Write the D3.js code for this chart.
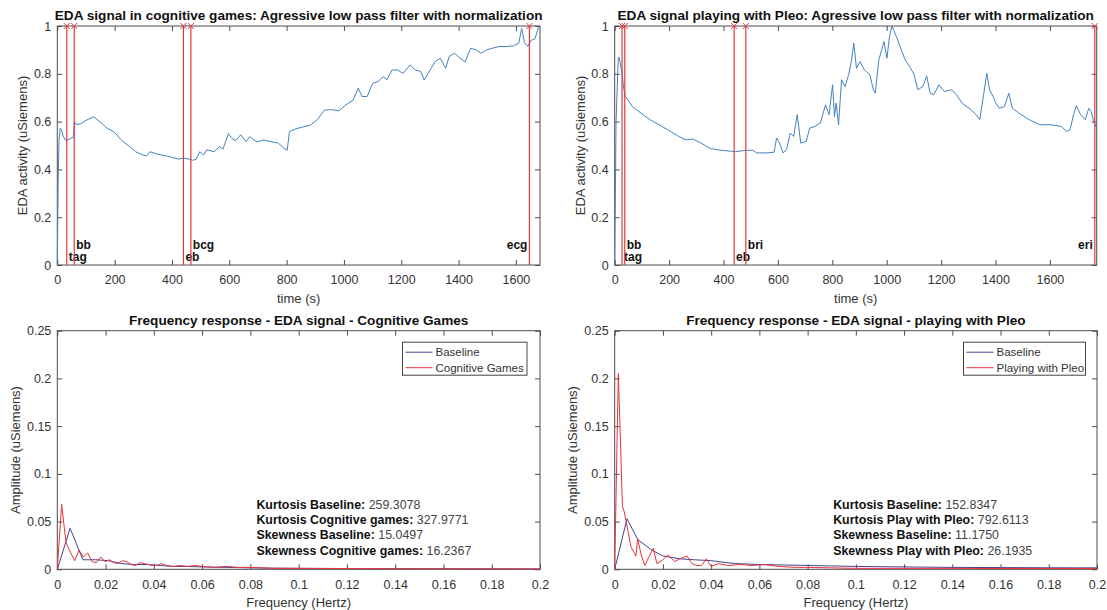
<!DOCTYPE html>
<html>

<head>
  <title>EDA signal</title>

  <style>
    body,
    html {
      margin: 0;
      padding: 0;
      background: #fff;
    }

    svg text {
      font-family: "Liberation Sans", Arial, sans-serif;
    }
  </style>
</head>

<body>

  <svg id="svg" width="1107" height="610"></svg>

  <script src="https://d3js.org/d3.v7.min.js"></script>
  <script>
    // top left: EDA in cognitive games
    const cogTime = [0, 3, 6, 10, 15, 20, 30, 45, 56, 60, 66, 80, 100, 127, 150, 174, 199, 224, 250, 273, 295, 311, 323, 348, 385, 423, 441, 460, 472, 485, 497, 510, 522, 547, 566, 578, 597, 609, 622, 640, 659, 671, 696, 721, 746, 771, 789, 802, 810, 833, 858, 883, 907, 932, 957, 982, 1007, 1032, 1050, 1063, 1081, 1100, 1119, 1137, 1150, 1168, 1187, 1206, 1231, 1249, 1268, 1280, 1293, 1318, 1336, 1355, 1367, 1386, 1405, 1423, 1442, 1461, 1479, 1498, 1517, 1541, 1566, 1591, 1610, 1620, 1630, 1641, 1653, 1666, 1680]
    const cogEDA = [0, 0.35, 0.52, 0.572, 0.565, 0.54, 0.52, 0.528, 0.535, 0.6, 0.588, 0.59, 0.605, 0.62, 0.598, 0.572, 0.556, 0.522, 0.497, 0.474, 0.462, 0.456, 0.474, 0.464, 0.455, 0.443, 0.447, 0.443, 0.438, 0.443, 0.474, 0.46, 0.482, 0.474, 0.495, 0.485, 0.55, 0.53, 0.52, 0.545, 0.516, 0.537, 0.515, 0.523, 0.516, 0.51, 0.49, 0.48, 0.558, 0.57, 0.578, 0.585, 0.608, 0.648, 0.65, 0.645, 0.67, 0.69, 0.74, 0.705, 0.705, 0.76, 0.768, 0.788, 0.775, 0.816, 0.816, 0.802, 0.837, 0.816, 0.81, 0.774, 0.8, 0.851, 0.865, 0.823, 0.872, 0.886, 0.865, 0.85, 0.907, 0.9, 0.886, 0.9, 0.907, 0.914, 0.914, 0.917, 0.928, 0.99, 0.93, 0.915, 0.94, 0.945, 1.0]
    const cogMarkTimes = [33, 59, 440, 466, 1647]
    const cogMarkNames = ["tag", "bb", "eb", "bcg", "ecg"]

    // top right: EDA playing with Pleo
    const pleoTime = [0, 5, 13, 16, 26, 33, 39, 65, 104, 130, 156, 195, 235, 261, 287, 313, 352, 391, 430, 443, 482, 508, 521, 560, 586, 595, 606, 619, 632, 645, 658, 671, 684, 704, 717, 736, 756, 775, 788, 801, 808, 814, 823, 834, 847, 860, 870, 879, 889, 902, 918, 938, 951, 958, 971, 990, 1001, 1010, 1019, 1036, 1049, 1068, 1088, 1101, 1114, 1133, 1147, 1160, 1173, 1192, 1212, 1238, 1257, 1277, 1303, 1329, 1342, 1357, 1368, 1378, 1391, 1401, 1414, 1433, 1449, 1462, 1485, 1524, 1563, 1603, 1642, 1661, 1674, 1687, 1697, 1713, 1730, 1743, 1752, 1761, 1772]
    const pleoEDA = [0, 0.6, 0.865, 0.87, 0.81, 0.74, 0.705, 0.663, 0.629, 0.608, 0.591, 0.566, 0.538, 0.524, 0.527, 0.513, 0.487, 0.48, 0.476, 0.474, 0.48, 0.48, 0.469, 0.469, 0.472, 0.531, 0.51, 0.469, 0.483, 0.552, 0.538, 0.629, 0.51, 0.517, 0.573, 0.58, 0.594, 0.67, 0.629, 0.754, 0.62, 0.677, 0.587, 0.775, 0.747, 0.796, 0.851, 0.928, 0.823, 0.851, 0.816, 0.796, 0.733, 0.719, 0.858, 0.935, 0.865, 0.955, 1.0, 0.955, 0.914, 0.858, 0.823, 0.796, 0.733, 0.747, 0.791, 0.719, 0.712, 0.754, 0.726, 0.733, 0.712, 0.677, 0.656, 0.629, 0.608, 0.719, 0.802, 0.733, 0.705, 0.677, 0.656, 0.663, 0.719, 0.656, 0.636, 0.608, 0.587, 0.587, 0.58, 0.559, 0.566, 0.629, 0.666, 0.629, 0.608, 0.656, 0.642, 0.6, 0.573]
    const pleoMarkTimes = [27, 37, 439, 482, 1765]
    const pleoMarkNames = ["tag", "bb", "eb", "bri", "eri"]

    // bottom left: frequency response, cognitive games
    const cogBaseFreq = [0, 0.0053, 0.0106, 0.016, 0.0213, 0.0266, 0.032, 0.0373, 0.0426, 0.048, 0.0533, 0.06, 0.07, 0.08, 0.09, 0.1, 0.12, 0.14, 0.16, 0.18, 0.2]
    const cogBaseAmp = [0, 0.043, 0.01, 0.01, 0.009, 0.006, 0.005, 0.005, 0.004, 0.003, 0.003, 0.0025, 0.002, 0.0015, 0.0012, 0.001, 0.0008, 0.0006, 0.0005, 0.0004, 0.0003]
    const cogGameFreq = [0, 0.0018, 0.0036, 0.0054, 0.0072, 0.009, 0.0108, 0.0126, 0.0144, 0.0162, 0.018, 0.0198, 0.0216, 0.0234, 0.0252, 0.027, 0.0288, 0.0306, 0.0324, 0.0342, 0.036, 0.0378, 0.0396, 0.0414, 0.0432, 0.045, 0.048, 0.051, 0.054, 0.057, 0.06, 0.065, 0.07, 0.075, 0.08, 0.09, 0.1, 0.12, 0.14, 0.16, 0.18, 0.2]
    const cogGameAmp = [0, 0.068, 0.028, 0.018, 0.009, 0.02, 0.013, 0.017, 0.008, 0.007, 0.013, 0.008, 0.01, 0.007, 0.006, 0.009, 0.008, 0.005, 0.004, 0.007, 0.006, 0.005, 0.004, 0.004, 0.006, 0.004, 0.003, 0.004, 0.003, 0.004, 0.003, 0.002, 0.003, 0.002, 0.002, 0.001, 0.001, 0.0008, 0.0006, 0.0005, 0.0004, 0.0003]
    const cogStatNames = ["Kurtosis Baseline:", "Kurtosis Cognitive games:", "Skewness Baseline:", "Skewness Cognitive games:"]
    const cogStatValues = ["259.3078", "327.9771", "15.0497", "16.2367"]
    const cogLegend = ["Baseline", "Cognitive Games"]

    // bottom right: frequency response, playing with Pleo
    const pleoBaseFreq = [0, 0.0051, 0.0096, 0.0155, 0.02, 0.027, 0.033, 0.04, 0.05, 0.06, 0.07, 0.08, 0.1, 0.12, 0.14, 0.16, 0.18, 0.2]
    const pleoBaseAmp = [0, 0.053, 0.031, 0.02, 0.014, 0.011, 0.01, 0.009, 0.006, 0.005, 0.0045, 0.004, 0.003, 0.0025, 0.002, 0.0018, 0.0016, 0.0015]
    const pleoGameFreq = [0, 0.0015, 0.0022, 0.0032, 0.004, 0.0055, 0.0068, 0.0088, 0.0095, 0.011, 0.0125, 0.014, 0.016, 0.0175, 0.02, 0.022, 0.025, 0.027, 0.03, 0.032, 0.034, 0.036, 0.038, 0.04, 0.043, 0.047, 0.052, 0.057, 0.062, 0.068, 0.075, 0.08, 0.09, 0.1, 0.12, 0.14, 0.16, 0.18, 0.2]
    const pleoGameAmp = [0, 0.205, 0.15, 0.066, 0.06, 0.04, 0.023, 0.014, 0.032, 0.015, 0.004, 0.012, 0.022, 0.006, 0.01, 0.015, 0.008, 0.011, 0.014, 0.006, 0.004, 0.004, 0.011, 0.003, 0.006, 0.004, 0.005, 0.004, 0.005, 0.003, 0.002, 0.002, 0.0015, 0.001, 0.001, 0.001, 0.0008, 0.0008, 0.0008]
    const pleoStatNames = ["Kurtosis Baseline:", "Kurtosis Play with Pleo:", "Skewness Baseline:", "Skewness Play with Pleo:"]
    const pleoStatValues = ["152.8347", "792.6113", "11.1750", "26.1935"]
    const pleoLegend = ["Baseline", "Playing with Pleo"]

    const timeTicks = [0, 200, 400, 600, 800, 1000, 1200, 1400, 1600]
    const edaTicks = [0, 0.2, 0.4, 0.6, 0.8, 1]
    const freqTicks = [0, 0.02, 0.04, 0.06, 0.08, 0.1, 0.12, 0.14, 0.16, 0.18, 0.2]
    const ampTicks = [0, 0.05, 0.1, 0.15, 0.2, 0.25]

    const svg = d3.select("#svg")
    const axisColor = "#4d4d4d"
    const textColor = "#333"
    const fmt = d => String(+d.toFixed(2))

    function drawAxes(box, xDomain, yDomain, xTicks, yTicks, o) {
      const x = d3.scaleLinear().domain(xDomain).range([box.x0, box.x1])
      const y = d3.scaleLinear().domain(yDomain).range([box.y1, box.y0])
      const g = svg.append("g")

      g.append("g")
        .attr("transform", `translate(0,${box.y1})`)
        .call(d3.axisBottom(x).tickValues(xTicks).tickFormat(fmt).tickSize(-5).tickPadding(10.5))
      g.append("g")
        .attr("transform", `translate(0,${box.y0})`)
        .call(d3.axisTop(x).tickValues(xTicks).tickFormat("").tickSize(-5))
      g.append("g")
        .attr("transform", `translate(${box.x0},0)`)
        .call(d3.axisLeft(y).tickValues(yTicks).tickFormat(fmt).tickSize(-5).tickPadding(6))
      g.append("g")
        .attr("transform", `translate(${box.x1},0)`)
        .call(d3.axisRight(y).tickValues(yTicks).tickFormat("").tickSize(-5))

      g.selectAll(".domain").remove()
      g.selectAll(".tick line").attr("stroke", axisColor)
      g.selectAll(".tick text")
        .attr("fill", textColor)
        .style("font-size", "12.5px")

      g.append("rect")
        .attr("x", box.x0).attr("y", box.y0)
        .attr("width", box.x1 - box.x0).attr("height", box.y1 - box.y0)
        .attr("fill", "none").attr("stroke", axisColor).attr("stroke-width", 1)

      const cx = (box.x0 + box.x1) / 2
      svg.append("text")
        .attr("x", cx).attr("y", box.y0 - o.titleGap)
        .attr("text-anchor", "middle")
        .style("font-size", "13.6px").style("font-weight", "bold")
        .attr("fill", "#111")
        .text(o.title)

      svg.append("text")
        .attr("x", cx).attr("y", box.y1 + 38)
        .attr("text-anchor", "middle")
        .style("font-size", "13px")
        .attr("fill", textColor)
        .text(o.xLabel)

      svg.append("text")
        .attr("transform", `translate(${o.yLabelX},${(box.y0 + box.y1) / 2}) rotate(-90)`)
        .attr("text-anchor", "middle")
        .style("font-size", "13px")
        .attr("fill", textColor)
        .text(o.yLabel)

      return { x, y }
    }

    function drawSignal(box, times, values, markTimes, markNames, o) {
      const s = drawAxes(box, [0, o.xMax], [0, 1], timeTicks, edaTicks, o)

      const lineGen = d3.line()
        .x((d, i) => s.x(times[i]))
        .y(d => s.y(d))

      svg.append("path")
        .attr("d", lineGen(values))
        .attr("fill", "none")
        .attr("stroke", "#4582c2")
        .attr("stroke-width", 1)

      // events: vertical red lines with x markers at the top
      markTimes.forEach((t, i) => {
        const px = s.x(t)
        svg.append("line")
          .attr("x1", px).attr("x2", px)
          .attr("y1", s.y(0)).attr("y2", s.y(1))
          .attr("stroke", "#e0393e").attr("stroke-width", 1.2)
        const m = 3
        svg.append("path")
          .attr("d", `M${px - m},${s.y(1) - m}L${px + m},${s.y(1) + m}M${px - m},${s.y(1) + m}L${px + m},${s.y(1) - m}`)
          .attr("stroke", "#e0393e").attr("stroke-width", 1)

        const name = markNames[i]
        const low = name === "tag" || name === "eb"
        const atEnd = i === markTimes.length - 1
        svg.append("text")
          .attr("x", atEnd ? px - 2 : px + 2)
          .attr("y", s.y(low ? 0.017 : 0.067))
          .attr("text-anchor", atEnd ? "end" : "start")
          .style("font-size", "12px").style("font-weight", "bold")
          .attr("fill", "#111")
          .text(name)
      })
    }

    function drawSpectrum(box, baseF, baseA, gameF, gameA, legend, statNames, statValues, o) {
      const s = drawAxes(box, [0, 0.2], [0, 0.25], freqTicks, ampTicks, o)

      const baseLine = d3.line().x((d, i) => s.x(baseF[i])).y(d => s.y(d))
      const gameLine = d3.line().x((d, i) => s.x(gameF[i])).y(d => s.y(d))

      svg.append("path")
        .attr("d", baseLine(baseA))
        .attr("fill", "none").attr("stroke", "#44448f").attr("stroke-width", 1)
      svg.append("path")
        .attr("d", gameLine(gameA))
        .attr("fill", "none").attr("stroke", "#e8323a").attr("stroke-width", 1)

      // legend
      const lg = svg.append("g")
      lg.append("rect")
        .attr("x", o.legendX).attr("y", box.y0 + 11.5)
        .attr("width", o.legendW).attr("height", 33)
        .attr("fill", "#fff").attr("stroke", "#444").attr("stroke-width", 1)
      const colors = ["#44448f", "#e8323a"]
      legend.forEach((name, i) => {
        const ly = box.y0 + 21.5 + i * 15.5
        lg.append("line")
          .attr("x1", o.legendX + 3).attr("x2", o.legendX + 30)
          .attr("y1", ly).attr("y2", ly)
          .attr("stroke", colors[i]).attr("stroke-width", 1)
        lg.append("text")
          .attr("x", o.legendX + 33).attr("y", ly + 4)
          .style("font-size", "11.5px")
          .attr("fill", textColor)
          .text(name)
      })

      // kurtosis / skewness block
      statNames.forEach((name, i) => {
        const t = svg.append("text")
          .attr("x", s.x(o.statX)).attr("y", s.y(0.1) + 35 + i * 15.3)
          .style("font-size", "12.4px")
          .attr("fill", "#111")
        t.append("tspan").style("font-weight", "bold").text(name + " ")
        t.append("tspan").attr("fill", "#444").text(statValues[i])
      })
    }

    drawSignal({ x0: 57.3, x1: 540, y0: 26, y1: 265 }, cogTime, cogEDA, cogMarkTimes, cogMarkNames, {
      xMax: 1684, title: "EDA signal in cognitive games: Agressive low pass filter with normalization",
      xLabel: "time (s)", yLabel: "EDA activity (uSiemens)", yLabelX: 27, titleGap: 6
    })
    drawSignal({ x0: 614.7, x1: 1096.7, y0: 26, y1: 265 }, pleoTime, pleoEDA, pleoMarkTimes, pleoMarkNames, {
      xMax: 1772, title: "EDA signal playing with Pleo: Agressive low pass filter with normalization",
      xLabel: "time (s)", yLabel: "EDA activity (uSiemens)", yLabelX: 585, titleGap: 6
    })
    drawSpectrum({ x0: 57.3, x1: 540, y0: 330.7, y1: 569.3 }, cogBaseFreq, cogBaseAmp, cogGameFreq, cogGameAmp, cogLegend, cogStatNames, cogStatValues, {
      title: "Frequency response - EDA signal - Cognitive Games", xLabel: "Frequency (Hertz)",
      yLabel: "Amplitude (uSiemens)", yLabelX: 20, titleGap: 6, legendX: 402.5, legendW: 124.5, statX: 0.0825
    })
    drawSpectrum({ x0: 614.7, x1: 1097, y0: 330.7, y1: 569.3 }, pleoBaseFreq, pleoBaseAmp, pleoGameFreq, pleoGameAmp, pleoLegend, pleoStatNames, pleoStatValues, {
      title: "Frequency response - EDA signal - playing with Pleo", xLabel: "Frequency (Hertz)",
      yLabel: "Amplitude (uSiemens)", yLabelX: 577, titleGap: 6, legendX: 963.5, legendW: 122, statX: 0.0906
    })
  </script>
</body>

</html>
